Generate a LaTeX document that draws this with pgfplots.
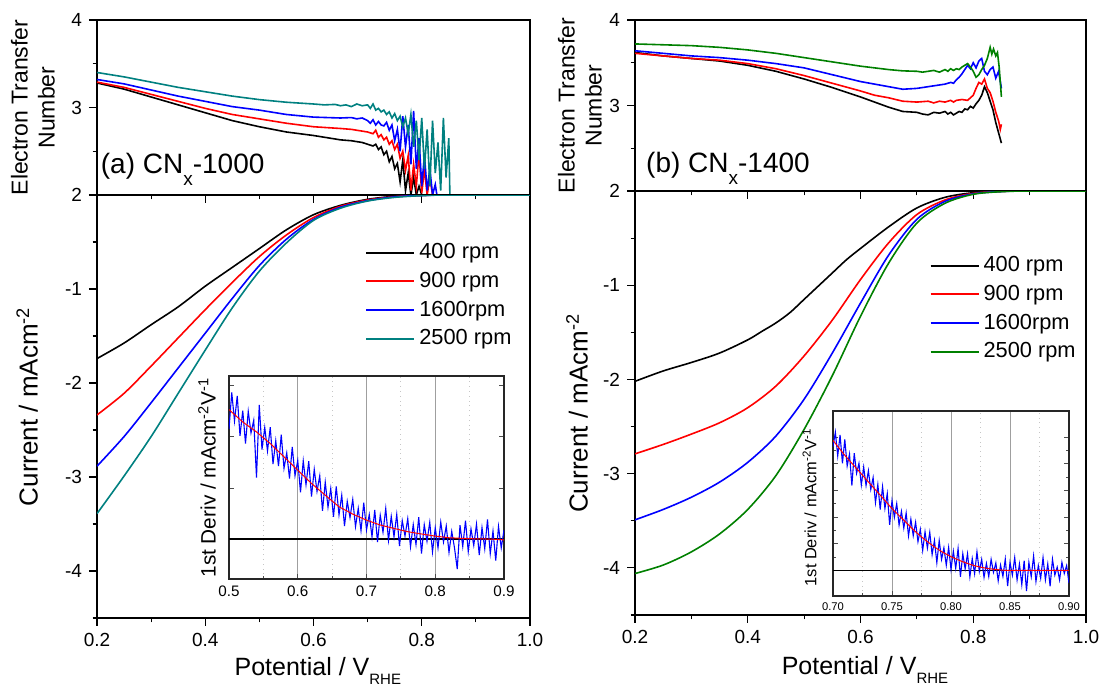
\documentclass[border=0pt]{standalone}
\usepackage{fontspec}
\setmainfont{Liberation Sans}
\usepackage{pgfplots}
\pgfplotsset{compat=1.18}
\definecolor{tealc}{RGB}{0,128,128}
\definecolor{greenc}{RGB}{0,128,0}

\pgfplotsset{
  base/.style={
    scale only axis,
    axis line style={line width=0.8pt},
    /pgf/number format/assume math mode=true,
    tick style={line width=0.6pt, black},
    major tick length=4pt, minor tick length=2.2pt,
    tick align=outside, xtick pos=left, ytick pos=left,
    ticklabel style={font=\fontsize{9.5}{11}\selectfont},
    xmin=0.2, xmax=1.0,
    xtick={0.2,0.4,0.6,0.8,1.0},
    minor xtick={0.3,0.5,0.7,0.9},
  },
  toppanel/.style={
    base, anchor=south west,
    ymin=2, ymax=4, ytick={2,3,4}, minor ytick={2.5,3.5},
    xticklabels={},
    ylabel={Electron Transfer\\Number},
    ylabel style={align=center, font=\fontsize{11.5}{13.5}\selectfont, anchor=south},
  },
  botpanel/.style={
    base, anchor=south west,
    ymin=-4.5, ymax=0, ytick={-4,-3,-2,-1},
    minor ytick={-4.5,-3.5,-2.5,-1.5,-0.5},
    xticklabel={\pgfmathprintnumber[fixed,fixed zerofill,precision=1]{\tick}},
    ylabel={Current / mAcm\textsuperscript{-2}},
    ylabel style={font=\fontsize{13}{15}\selectfont, anchor=south},
    xlabel={Potential / V\raisebox{-4.3pt}{\fontsize{7.5}{8}\selectfont RHE}},
    xlabel style={font=\fontsize{12.5}{14}\selectfont, anchor=north, inner sep=0pt},
    legend cell align=left,
    legend image code/.code={\draw[#1, line width=1pt] (0pt,0pt) -- (24pt,0pt);},
  },
  inset/.style={
    scale only axis, anchor=south west,
    axis background/.style={fill=white},
    axis line style={line width=0.6pt, black!85},
    /pgf/number format/assume math mode=true,
    tick style={line width=0.4pt, black!70},
    major tick length=2.5pt, minor tick length=1.5pt,
    tick align=inside, xtick pos=left, ytick pos=both,
    yticklabels={},
    xmajorgrids, xminorgrids,
    major grid style={gray!75, line width=0.5pt},
    minor grid style={gray!45, dotted, line width=0.5pt},
    ylabel={1st Deriv / mAcm\textsuperscript{-2}V\textsuperscript{-1}},
    ylabel style={anchor=south},
  },
  curve/.style={line width=0.8pt, mark=none, smooth},
  noisy/.style={line width=0.8pt, mark=none},
}

\begin{document}
\begin{tikzpicture}
\path[use as bounding box] (0,0) rectangle (550pt,343pt);

% ---------------- (a) electron transfer number ----------------
\begin{axis}[toppanel, at={(48.5pt,245.5pt)}, width=216.5pt, height=87.5pt,
  ylabel style={at={(axis description cs:-0.081,0.5)}}]
\addplot[noisy, black] coordinates {
(0.2,3.28)(0.25,3.21)(0.3,3.12)(0.35,3.03)(0.4,2.94)(0.45,2.85)(0.5,2.78)(0.55,2.72)
(0.6,2.68)(0.65,2.63)(0.67,2.62)(0.69,2.60)(0.70,2.58)(0.71,2.56)(0.715,2.58)(0.72,2.52)
(0.725,2.55)(0.73,2.46)(0.735,2.50)(0.74,2.38)(0.745,2.44)(0.75,2.30)(0.755,2.36)(0.76,2.15)
(0.765,2.40)(0.77,2.05)(0.775,2.25)(0.78,2.00)(0.785,2.20)(0.79,2.00)(0.795,2.10)(0.80,2.00)(1.0,2.0)};
\addplot[noisy, red] coordinates {
(0.2,3.29)(0.25,3.23)(0.3,3.15)(0.35,3.07)(0.4,2.99)(0.45,2.92)(0.5,2.87)(0.55,2.82)
(0.6,2.78)(0.65,2.76)(0.67,2.75)(0.69,2.73)(0.70,2.72)(0.71,2.70)(0.715,2.74)(0.72,2.66)
(0.725,2.69)(0.73,2.63)(0.735,2.66)(0.74,2.58)(0.745,2.62)(0.75,2.52)(0.755,2.58)(0.76,2.42)
(0.765,2.50)(0.77,2.28)(0.775,2.45)(0.78,2.05)(0.785,2.35)(0.79,2.10)(0.795,2.48)(0.80,2.02)
(0.805,2.30)(0.81,2.00)(0.815,2.20)(0.82,2.00)(1.0,2.0)};
\addplot[noisy, blue] coordinates {
(0.2,3.32)(0.25,3.27)(0.3,3.20)(0.35,3.13)(0.4,3.07)(0.45,3.01)(0.5,2.97)(0.55,2.92)
(0.6,2.89)(0.65,2.88)(0.67,2.885)(0.68,2.87)(0.69,2.88)(0.70,2.85)(0.705,2.82)(0.71,2.86)
(0.715,2.80)(0.72,2.84)(0.725,2.80)(0.73,2.79)(0.735,2.83)(0.74,2.74)(0.745,2.80)(0.75,2.62)
(0.755,2.75)(0.76,2.50)(0.765,2.90)(0.77,2.55)(0.775,2.80)(0.78,2.35)(0.785,2.96)(0.79,2.30)
(0.795,2.65)(0.80,2.10)(0.805,2.45)(0.81,2.05)(0.815,2.30)(0.82,2.00)(0.825,2.12)(0.828,2.00)(1.0,2.0)};
\addplot[noisy, tealc] coordinates {
(0.2,3.40)(0.25,3.35)(0.3,3.29)(0.35,3.23)(0.4,3.18)(0.45,3.13)(0.5,3.09)(0.55,3.06)
(0.575,3.05)(0.6,3.04)(0.62,3.03)(0.64,3.035)(0.65,3.02)(0.66,3.03)(0.67,3.01)(0.68,3.04)
(0.69,3.02)(0.70,3.03)(0.705,2.99)(0.71,3.04)(0.715,2.97)(0.72,2.99)(0.725,2.95)(0.73,2.97)
(0.735,2.92)(0.74,2.95)(0.745,2.88)(0.75,2.93)(0.755,2.85)(0.76,2.90)(0.765,2.78)(0.77,2.88)
(0.775,2.70)(0.78,2.92)(0.785,2.55)(0.79,2.85)(0.795,2.40)(0.80,2.88)(0.805,2.30)(0.81,2.75)
(0.815,2.10)(0.82,2.85)(0.825,2.25)(0.83,2.60)(0.835,2.05)(0.84,2.88)(0.845,2.20)(0.85,2.65)
(0.852,2.00)(1.0,2.0)};
\node[anchor=base west, inner sep=0pt, font=\fontsize{14}{16}\selectfont]
  at (axis description cs:0.008,0.12) {(a) CN\raisebox{-0.8ex}{\fontsize{9.5}{10}\selectfont x}-1000};
\end{axis}

% ---------------- (a) current ----------------
\begin{axis}[botpanel, at={(48.5pt,34pt)}, width=216.5pt, height=211.5pt,
  ylabel style={at={(axis description cs:-0.12,0.5)}},
  xlabel style={at={(axis description cs:0.51,0)}, yshift=-19.5pt},
  legend style={at={(axis description cs:0.605,0.905)}, anchor=north west,
    draw=none, fill=none, font=\fontsize{10.9}{12}\selectfont, row sep=1.2pt}]
\addplot[curve, black] coordinates {
(0.2,-1.74)(0.25,-1.575)(0.3,-1.38)(0.35,-1.19)(0.4,-0.97)(0.45,-0.77)(0.5,-0.57)
(0.55,-0.37)(0.6,-0.21)(0.65,-0.11)(0.7,-0.046)(0.75,-0.014)(0.8,-0.003)(0.85,0)(1.0,0)};
\addlegendentry{400 rpm}
\addplot[curve, red] coordinates {
(0.2,-2.34)(0.25,-2.11)(0.3,-1.82)(0.35,-1.52)(0.4,-1.22)(0.45,-0.93)(0.5,-0.655)
(0.55,-0.425)(0.6,-0.24)(0.65,-0.12)(0.7,-0.053)(0.75,-0.018)(0.8,-0.004)(0.85,0)(1.0,0)};
\addlegendentry{900 rpm}
\addplot[curve, blue] coordinates {
(0.2,-2.885)(0.25,-2.57)(0.3,-2.21)(0.35,-1.84)(0.4,-1.47)(0.45,-1.10)(0.5,-0.75)
(0.55,-0.47)(0.6,-0.26)(0.65,-0.13)(0.7,-0.06)(0.75,-0.02)(0.8,-0.005)(0.85,0)(1.0,0)};
\addlegendentry{1600rpm}
\addplot[curve, tealc] coordinates {
(0.2,-3.39)(0.25,-2.99)(0.3,-2.57)(0.35,-2.11)(0.4,-1.65)(0.45,-1.20)(0.5,-0.81)
(0.55,-0.51)(0.6,-0.27)(0.65,-0.14)(0.7,-0.064)(0.75,-0.025)(0.8,-0.007)(0.85,0)(1.0,0)};
\addlegendentry{2500 rpm}
\end{axis}

% ---------------- (a) inset ----------------
\begin{axis}[inset, at={(114.5pt,53.5pt)}, width=137.5pt, height=101.5pt,
  xmin=0.5, xmax=0.9, ymin=-0.245, ymax=1,
  xtick={0.5,0.6,0.7,0.8,0.9}, minor xtick={0.55,0.65,0.75,0.85},
  ytick={0,0.313,0.627,0.94},
  xticklabel={\pgfmathprintnumber[fixed,fixed zerofill,precision=1]{\tick}},
  ticklabel style={font=\fontsize{7.6}{9}\selectfont},
  ylabel style={font=\fontsize{10.4}{12}\selectfont, at={(axis description cs:-0.022,0.5)}}]
\addplot[black, line width=0.7pt, forget plot] coordinates {(0.5,0)(0.9,0)};
\addplot[blue, line width=0.55pt] coordinates {
(0.500,0.674)(0.504,0.899)(0.508,0.724)(0.512,0.878)(0.516,0.633)(0.520,0.788)(0.524,0.586)
(0.528,0.784)(0.532,0.651)(0.536,0.729)(0.540,0.377)(0.544,0.823)(0.548,0.549)(0.552,0.684)
(0.556,0.540)(0.560,0.686)(0.564,0.460)(0.568,0.603)(0.572,0.447)(0.576,0.640)(0.580,0.434)
(0.584,0.528)(0.588,0.371)(0.592,0.565)(0.596,0.388)(0.600,0.482)(0.604,0.286)(0.608,0.480)
(0.612,0.333)(0.616,0.477)(0.620,0.261)(0.624,0.427)(0.628,0.292)(0.632,0.388)(0.636,0.173)
(0.640,0.349)(0.644,0.195)(0.648,0.310)(0.652,0.136)(0.656,0.322)(0.660,0.148)(0.664,0.269)
(0.668,0.080)(0.672,0.231)(0.676,0.132)(0.680,0.243)(0.684,0.076)(0.688,0.188)(0.692,0.051)
(0.696,0.223)(0.700,0.056)(0.704,0.150)(0.708,0.014)(0.712,0.178)(0.716,-0.018)(0.720,0.146)
(0.724,0.042)(0.728,0.188)(0.732,-0.007)(0.736,0.139)(0.740,0.015)(0.744,0.151)(0.748,-0.043)
(0.752,0.113)(0.756,0.019)(0.760,0.125)(0.764,-0.048)(0.768,0.089)(0.772,-0.033)(0.776,0.134)
(0.780,-0.089)(0.784,0.088)(0.788,-0.014)(0.792,0.103)(0.796,-0.079)(0.800,0.068)(0.804,-0.054)
(0.808,0.104)(0.812,-0.018)(0.816,0.080)(0.820,-0.082)(0.824,0.047)(0.828,-0.054)(0.832,-0.184)
(0.836,0.085)(0.840,-0.046)(0.844,0.113)(0.848,-0.077)(0.852,0.062)(0.856,-0.039)(0.860,0.091)
(0.864,-0.099)(0.868,0.070)(0.872,-0.060)(0.876,0.120)(0.880,-0.090)(0.884,0.049)(0.888,-0.132)
(0.892,0.077)(0.896,-0.054)(0.900,0.055)};
\addplot[red, line width=0.5pt] coordinates {
(0.50,0.794)(0.52,0.718)(0.54,0.657)(0.56,0.586)(0.58,0.504)(0.60,0.422)(0.62,0.341)
(0.64,0.269)(0.66,0.198)(0.68,0.153)(0.70,0.116)(0.72,0.086)(0.74,0.065)(0.76,0.045)
(0.78,0.031)(0.80,0.018)(0.82,0.008)(0.84,0.004)(0.86,0.001)(0.88,0)(0.90,-0.005)};
\end{axis}

% ---------------- (b) electron transfer number ----------------
\begin{axis}[toppanel, at={(317.5pt,247.5pt)}, width=225.5pt, height=85.5pt,
  ylabel style={at={(axis description cs:-0.058,0.5)}}]
\addplot[noisy, black] coordinates {
(0.2,3.62)(0.25,3.58)(0.3,3.55)(0.35,3.52)(0.4,3.47)(0.45,3.40)(0.5,3.31)(0.55,3.21)
(0.6,3.10)(0.625,3.04)(0.65,2.98)(0.675,2.93)(0.70,2.92)(0.71,2.90)(0.72,2.89)(0.73,2.92)
(0.74,2.91)(0.75,2.93)(0.755,2.90)(0.76,2.92)(0.765,2.89)(0.77,2.91)(0.775,2.93)(0.78,2.92)
(0.785,2.96)(0.79,2.95)(0.795,2.99)(0.80,2.97)(0.805,3.02)(0.81,3.06)(0.815,3.12)(0.82,3.22)
(0.825,3.15)(0.83,3.05)(0.835,2.95)(0.84,2.80)(0.845,2.68)(0.85,2.56)};
\addplot[noisy, red] coordinates {
(0.2,3.61)(0.25,3.58)(0.3,3.55)(0.35,3.53)(0.4,3.49)(0.45,3.43)(0.5,3.35)(0.55,3.26)
(0.6,3.17)(0.625,3.12)(0.65,3.09)(0.675,3.05)(0.70,3.04)(0.72,3.05)(0.73,3.03)(0.74,3.05)
(0.75,3.04)(0.76,3.06)(0.765,3.04)(0.77,3.06)(0.78,3.07)(0.79,3.06)(0.795,3.09)(0.80,3.12)
(0.805,3.20)(0.81,3.27)(0.815,3.25)(0.82,3.31)(0.825,3.20)(0.83,3.15)(0.835,3.05)(0.84,2.92)
(0.845,2.82)(0.848,2.72)(0.85,2.78)};
\addplot[noisy, blue] coordinates {
(0.2,3.64)(0.25,3.61)(0.3,3.58)(0.35,3.56)(0.4,3.53)(0.45,3.49)(0.5,3.44)(0.55,3.36)
(0.6,3.28)(0.65,3.22)(0.675,3.19)(0.70,3.20)(0.72,3.22)(0.74,3.24)(0.75,3.25)(0.76,3.27)
(0.765,3.26)(0.77,3.30)(0.775,3.33)(0.78,3.37)(0.785,3.42)(0.79,3.47)(0.795,3.43)(0.80,3.50)
(0.805,3.44)(0.81,3.52)(0.815,3.55)(0.82,3.40)(0.825,3.36)(0.83,3.42)(0.835,3.45)(0.84,3.32)
(0.845,3.40)(0.85,3.20)};
\addplot[noisy, greenc] coordinates {
(0.2,3.72)(0.25,3.71)(0.3,3.70)(0.35,3.68)(0.4,3.65)(0.45,3.61)(0.5,3.56)(0.55,3.51)
(0.6,3.46)(0.65,3.42)(0.675,3.405)(0.70,3.40)(0.71,3.39)(0.72,3.40)(0.73,3.41)(0.74,3.39)
(0.75,3.42)(0.755,3.40)(0.76,3.43)(0.765,3.41)(0.77,3.43)(0.775,3.42)(0.78,3.45)(0.785,3.47)
(0.79,3.49)(0.795,3.45)(0.80,3.40)(0.805,3.33)(0.81,3.36)(0.815,3.42)(0.82,3.47)(0.825,3.55)
(0.83,3.68)(0.833,3.60)(0.836,3.66)(0.84,3.58)(0.843,3.62)(0.846,3.45)(0.85,3.10)};
\node[anchor=base west, inner sep=0pt, font=\fontsize{14}{16}\selectfont]
  at (axis description cs:0.024,0.11) {(b) CN\raisebox{-0.8ex}{\fontsize{9.5}{10}\selectfont x}-1400};
\end{axis}

% ---------------- (b) current ----------------
\begin{axis}[botpanel, at={(317.5pt,35.5pt)}, width=225.5pt, height=212pt,
  ylabel style={at={(axis description cs:-0.089,0.476)}},
  xlabel style={at={(axis description cs:0.51,0)}, yshift=-20.5pt},
  legend style={at={(axis description cs:0.639,0.865)}, anchor=north west,
    draw=none, fill=none, font=\fontsize{10.9}{12}\selectfont, row sep=1.2pt}]
\addplot[curve, black] coordinates {
(0.2,-2.02)(0.25,-1.91)(0.3,-1.82)(0.35,-1.72)(0.4,-1.58)(0.425,-1.49)(0.45,-1.40)(0.475,-1.29)
(0.5,-1.15)(0.525,-1.01)(0.55,-0.87)(0.575,-0.73)(0.6,-0.61)(0.65,-0.38)(0.7,-0.18)
(0.75,-0.067)(0.8,-0.018)(0.85,-0.003)(0.9,0)(1.0,0)};
\addlegendentry{400 rpm}
\addplot[curve, red] coordinates {
(0.2,-2.79)(0.25,-2.69)(0.3,-2.58)(0.35,-2.46)(0.4,-2.30)(0.45,-2.07)(0.5,-1.75)
(0.55,-1.37)(0.6,-0.94)(0.65,-0.55)(0.7,-0.25)(0.75,-0.095)(0.8,-0.025)(0.85,-0.004)(0.9,0)(1.0,0)};
\addlegendentry{900 rpm}
\addplot[curve, blue] coordinates {
(0.2,-3.49)(0.25,-3.38)(0.3,-3.25)(0.35,-3.09)(0.4,-2.88)(0.45,-2.60)(0.5,-2.21)
(0.55,-1.72)(0.6,-1.19)(0.65,-0.68)(0.7,-0.30)(0.75,-0.11)(0.8,-0.03)(0.85,-0.005)(0.9,0)(1.0,0)};
\addlegendentry{1600rpm}
\addplot[curve, greenc] coordinates {
(0.2,-4.06)(0.25,-3.97)(0.3,-3.83)(0.35,-3.64)(0.4,-3.38)(0.45,-3.02)(0.5,-2.53)
(0.55,-1.96)(0.6,-1.33)(0.65,-0.765)(0.7,-0.34)(0.75,-0.13)(0.8,-0.035)(0.85,-0.007)(0.9,0)(1.0,0)};
\addlegendentry{2500 rpm}
\end{axis}

% ---------------- (b) inset ----------------
\begin{axis}[inset, at={(416.5pt,45pt)}, width=118pt, height=92.5pt,
  xmin=0.7, xmax=0.9, ymin=-0.161, ymax=1,
  xtick={0.70,0.75,0.80,0.85,0.90}, minor xtick={0.725,0.775,0.825,0.875},
  ytick={0,0.167,0.334,0.501,0.668,0.835}, minor y tick num=1,
  xticklabel={\pgfmathprintnumber[fixed,fixed zerofill,precision=2]{\tick}},
  ticklabel style={font=\fontsize{5.6}{7}\selectfont},
  ylabel style={font=\fontsize{8.2}{10}\selectfont, at={(axis description cs:-0.04,0.48)}}]
\addplot[black, line width=0.7pt, forget plot] coordinates {(0.7,0)(0.9,0)};
\addplot[blue, line width=0.55pt] coordinates {
(0.700,0.776)(0.702,0.867)(0.704,0.718)(0.706,0.850)(0.708,0.671)(0.710,0.822)(0.712,0.655)
(0.714,0.729)(0.716,0.532)(0.718,0.735)(0.720,0.609)(0.722,0.672)(0.724,0.535)(0.726,0.648)
(0.728,0.532)(0.730,0.625)(0.732,0.508)(0.734,0.582)(0.736,0.425)(0.738,0.539)(0.740,0.382)
(0.742,0.525)(0.744,0.388)(0.746,0.482)(0.748,0.285)(0.750,0.438)(0.752,0.333)(0.754,0.419)
(0.756,0.284)(0.758,0.370)(0.760,0.265)(0.762,0.360)(0.764,0.216)(0.766,0.321)(0.768,0.217)
(0.770,0.302)(0.772,0.180)(0.774,0.257)(0.776,0.125)(0.778,0.242)(0.780,0.140)(0.782,0.239)
(0.784,0.099)(0.786,0.188)(0.788,0.048)(0.790,0.187)(0.792,0.069)(0.794,0.141)(0.796,0.032)
(0.798,0.144)(0.800,0.006)(0.802,0.120)(0.804,0.013)(0.806,0.137)(0.808,-0.040)(0.810,0.104)
(0.812,0.009)(0.814,0.104)(0.816,-0.041)(0.818,0.074)(0.820,-0.021)(0.822,0.116)(0.824,-0.007)
(0.826,0.069)(0.828,-0.044)(0.830,0.043)(0.832,-0.039)(0.834,0.069)(0.836,-0.012)(0.838,0.046)
(0.840,-0.066)(0.842,0.033)(0.844,-0.038)(0.846,0.071)(0.848,-0.099)(0.850,0.050)(0.852,-0.030)
(0.854,0.080)(0.856,-0.060)(0.858,0.040)(0.860,-0.090)(0.862,0.060)(0.864,-0.130)(0.866,0.050)
(0.868,-0.040)(0.870,0.090)(0.872,-0.070)(0.874,0.030)(0.876,-0.050)(0.878,0.080)(0.880,-0.060)
(0.882,0.040)(0.884,-0.100)(0.886,0.070)(0.888,-0.030)(0.890,0.020)(0.892,-0.060)(0.894,0.050)
(0.896,-0.020)(0.898,0.030)(0.900,-0.080)};
\addplot[red, line width=0.5pt, smooth] coordinates {
(0.70,0.816)(0.71,0.722)(0.72,0.639)(0.73,0.555)(0.74,0.472)(0.75,0.388)(0.76,0.315)
(0.77,0.242)(0.78,0.180)(0.79,0.127)(0.80,0.086)(0.81,0.054)(0.82,0.029)(0.83,0.013)
(0.84,0.004)(0.85,0)(0.90,0)};
\end{axis}
\end{tikzpicture}
\end{document}
